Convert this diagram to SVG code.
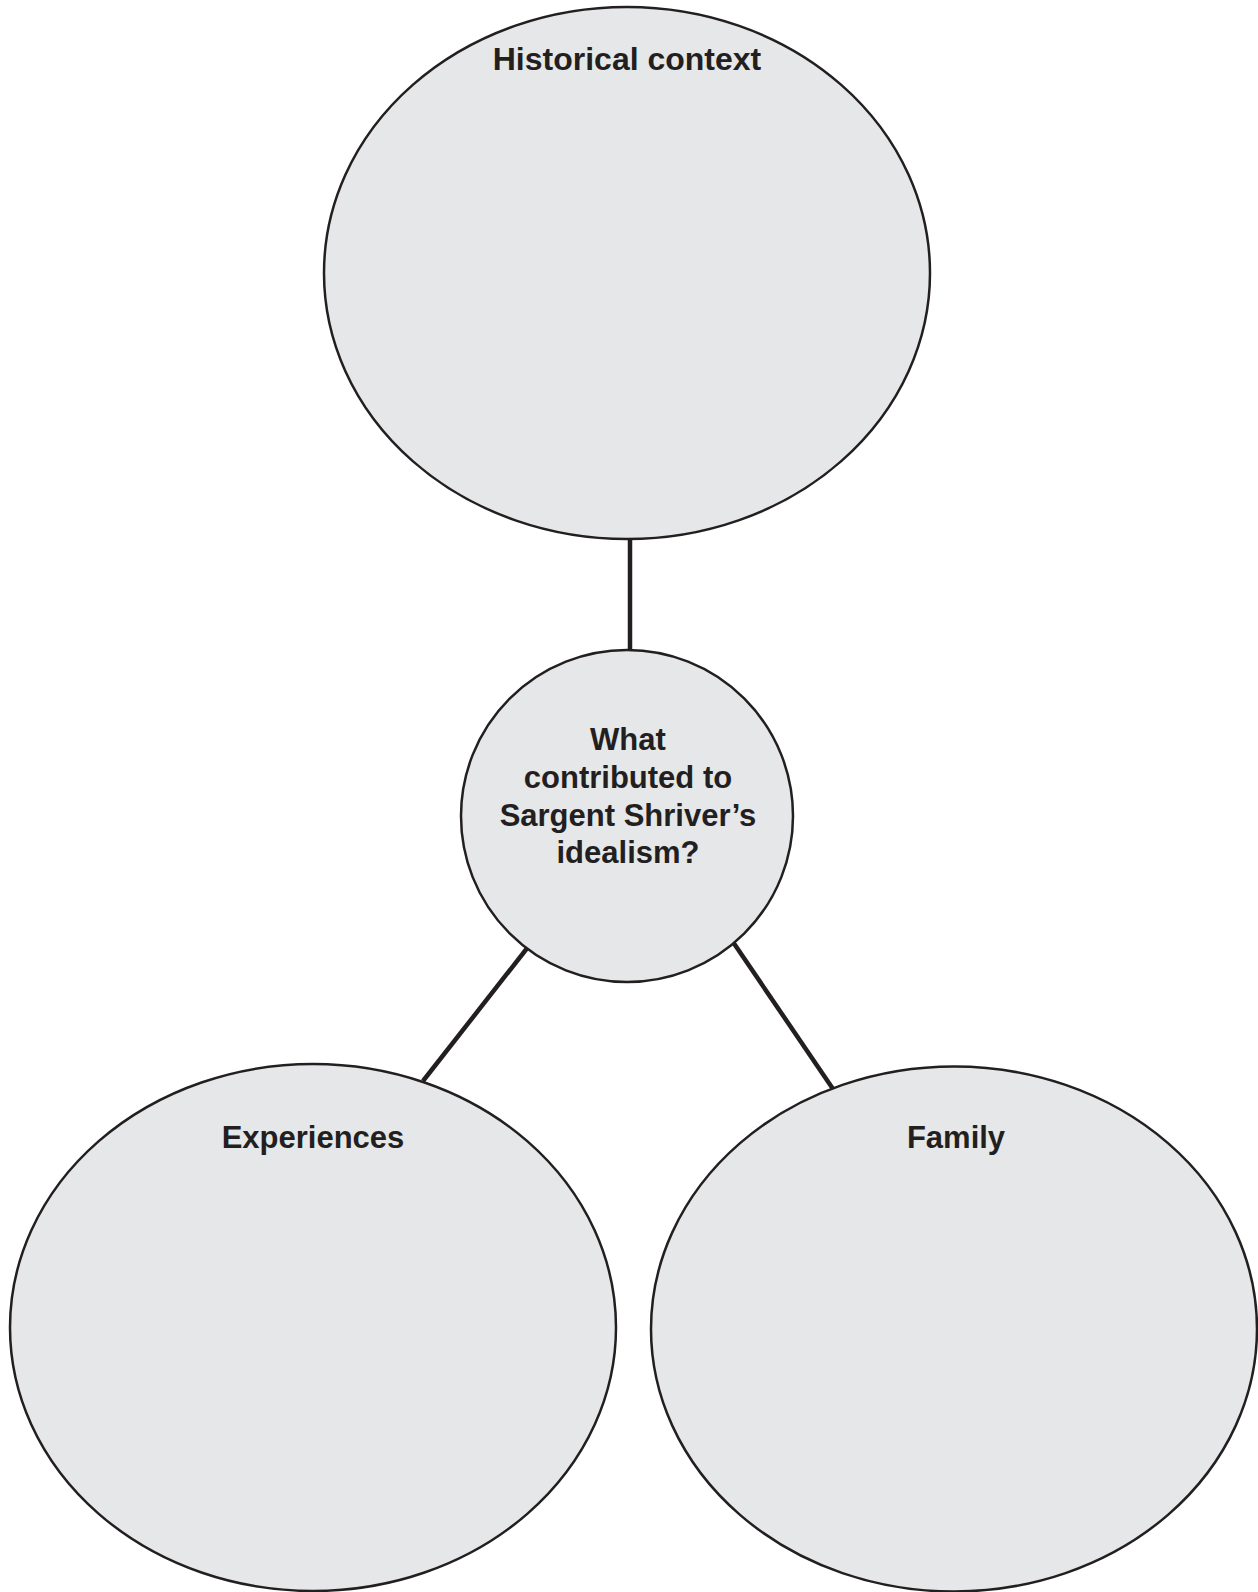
<svg xmlns="http://www.w3.org/2000/svg" width="1258" height="1592" viewBox="0 0 1258 1592">
<style>
.node{fill:#e6e7e8;stroke:#231f20;stroke-width:2.5}
.lbl{font-family:"Liberation Sans",Arial,sans-serif;font-weight:bold;fill:#231f20;text-anchor:middle}
.conn{stroke:#231f20;stroke-width:4.5;fill:none}
</style>
<rect width="1258" height="1592" fill="#ffffff"/>
<g id="connectors">
<line class="conn" x1="630" y1="539" x2="630" y2="651"/>
<line class="conn" x1="528" y1="947" x2="423" y2="1081"/>
<line class="conn" x1="733" y1="942" x2="833" y2="1089"/>
</g>
<g id="historical-context">
<ellipse class="node" cx="627" cy="273" rx="303" ry="266"/>
<text class="lbl" x="627" y="70" font-size="32">Historical context</text>
</g>
<g id="center">
<circle class="node" cx="627" cy="816" r="166"/>
<text class="lbl" font-size="31"><tspan x="628" y="750">What</tspan><tspan x="628" y="788">contributed to</tspan><tspan x="628" y="826">Sargent Shriver’s</tspan><tspan x="628" y="863">idealism?</tspan></text>
</g>
<g id="experiences">
<ellipse class="node" cx="313" cy="1327.5" rx="303" ry="263.5"/>
<text class="lbl" x="313" y="1148" font-size="31">Experiences</text>
</g>
<g id="family">
<ellipse class="node" cx="954" cy="1329" rx="303" ry="262.5"/>
<text class="lbl" x="956" y="1148" font-size="31">Family</text>
</g>
</svg>
